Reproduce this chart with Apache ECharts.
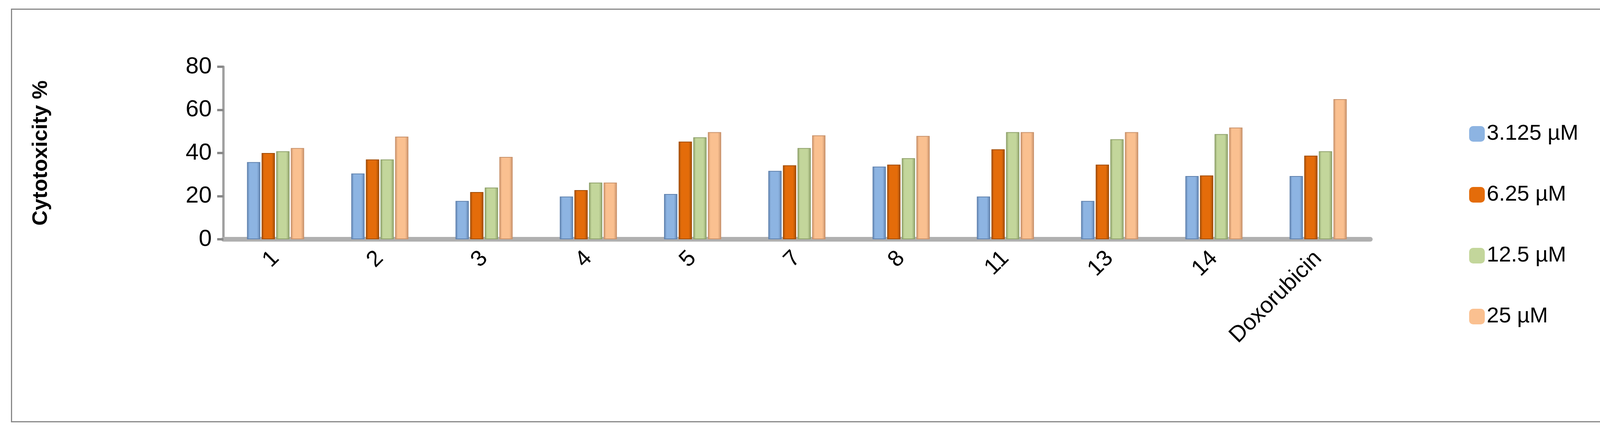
<!DOCTYPE html>
<html>
<head>
<meta charset="utf-8">
<script src="https://cdn.jsdelivr.net/npm/echarts@6/dist/echarts.min.js"></script>
<style>
  html, body { margin: 0; padding: 0; background: #fff; }
  #frame { position: absolute; left: 28px; top: 22px; width: 4246px; height: 1060px; border: 3px solid #888; box-sizing: border-box; }
  #chart { width: 4331px; height: 1117px; }
</style>
</head>
<body>
<div id="frame"></div>
<div id="chart"></div>
<script>
// NOTE - data
const compounds = ['1', '2', '3', '4', '5', '7', '8', '11', '13', '14', 'Doxorubicin']
const seriesNames = ['3.125 µM', '6.25 µM', '12.5 µM', '25 µM']
const c3125 = [35.8, 30.5, 17.8, 19.8, 21.0, 31.7, 33.7, 19.8, 17.8, 29.3, 29.3]
const c625 = [40.0, 37.0, 21.9, 22.8, 45.3, 34.3, 34.6, 41.7, 34.6, 29.6, 38.8]
const c125 = [40.8, 37.0, 24.0, 26.3, 47.3, 42.3, 37.6, 49.7, 46.4, 48.8, 40.8]
const c25 = [42.3, 47.6, 38.2, 26.3, 49.7, 48.2, 47.9, 49.7, 49.7, 51.8, 65.0]
const yTicks = [0, 20, 40, 60, 80]

const colors = ['#8db4e2', '#e46c0a', '#c3d69b', '#fac090']
const edges = ['#5f81ad', '#a04c06', '#8ea06a', '#c8916a']

// NOTE - 3D-ish bar fill
const barFill = (c, e) => ({
    type: 'linear', x: 0, y: 0, x2: 1, y2: 0,
    colorStops: [
        { offset: 0, color: e },
        { offset: 0.2, color: c },
        { offset: 0.75, color: c },
        { offset: 1, color: e }
    ]
})

const myChart = echarts.init(document.querySelector('#chart'))
const option = {
    animation: false,
    grid: { left: 572, right: 823, top: 171, bottom: 504 },
    legend: {
        orient: 'vertical',
        left: 3756,
        top: 310,
        itemWidth: 40,
        itemHeight: 40,
        itemGap: 100,
        textStyle: { fontFamily: 'Liberation Sans', fontSize: 56, color: '#000' },
        data: seriesNames.map((n, i) => ({ name: n, itemStyle: { color: colors[i], borderWidth: 0 } }))
    },
    xAxis: {
        type: 'category',
        data: compounds,
        axisLine: { lineStyle: { color: '#b0b0b0', width: 12 } },
        axisTick: { show: false },
        axisLabel: {
            rotate: 45, fontFamily: 'Liberation Sans', fontSize: 58, color: '#000',
            margin: 40, interval: 0
        }
    },
    yAxis: {
        type: 'value',
        min: 0, max: 80, interval: 20,
        name: 'Cytotoxicity %',
        nameLocation: 'middle',
        nameGap: 440,
        nameTextStyle: { fontFamily: 'Liberation Sans', fontSize: 54, fontWeight: 'bold', color: '#000' },
        axisLine: { show: true, lineStyle: { color: '#a0a0a0', width: 6 } },
        axisTick: { show: true, length: 16, lineStyle: { color: '#888', width: 6 } },
        splitLine: { show: false },
        axisLabel: {
            fontFamily: 'Liberation Sans', fontSize: 60, color: '#000', margin: 30,
            formatter: v => yTicks.includes(v) ? String(v) : ''
        }
    },
    series: [c3125, c625, c125, c25].map((d, i) => ({
        name: seriesNames[i],
        type: 'bar',
        data: d,
        barWidth: 34,
        barGap: '10%',
        barCategoryGap: '50%',
        itemStyle: { color: barFill(colors[i], edges[i]), borderColor: edges[i], borderWidth: 2 }
    }))
};
myChart.setOption(option)
</script>
</body>
</html>
